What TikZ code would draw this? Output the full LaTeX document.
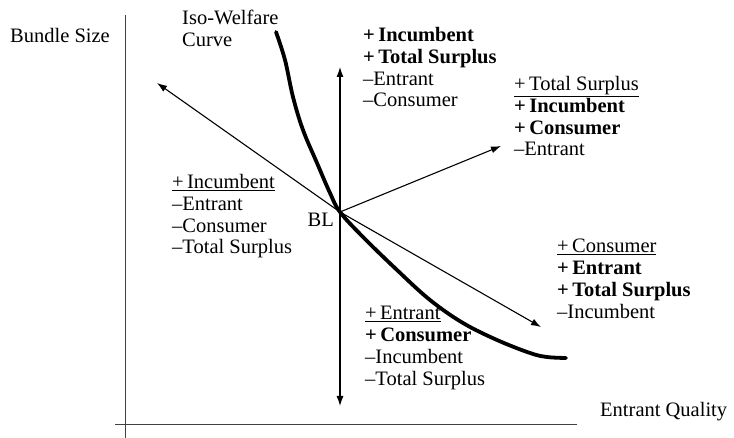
\documentclass[tikz,border=0pt]{standalone}
\usepackage{fontspec}
\setmainfont{Liberation Serif}
\usetikzlibrary{arrows.meta,positioning}

\begin{document}
\begin{tikzpicture}[
    x=1pt, y=-1pt,
    every node/.style={inner sep=0pt, font=\fontsize{20.5}{21.8}\selectfont},
    effect/.style={anchor=north west, align=left},
    move/.style={draw, line width=1.1pt, -{Latex[length=10pt,width=7pt]}},
    axis/.style={draw=black!75, line width=0.8pt},
    isocurve/.style={draw, line width=3.8pt, line cap=round}
]
\useasboundingbox (0,0) rectangle (734,438);

% axes
\coordinate (yaxis top) at (125,15);
\coordinate (yaxis bottom) at (125,438);
\coordinate (xaxis left) at (115,424);
\coordinate (xaxis right) at (577,424);
\draw[axis] (yaxis top) -- (yaxis bottom);
\draw[axis] (xaxis left) -- (xaxis right);
\node[anchor=west] (bundle) at (10,35) {Bundle Size};
\node[anchor=west] (quality) at (600,412) {Entrant Quality};

% base line point
\coordinate (BL) at (340,212);
\node[anchor=east] (bllabel) at (334,220) {BL};

% iso-welfare curve
\draw[isocurve] plot[smooth, tension=0.6] coordinates {
    (276,32) (285,60) (293,97) (303,130) (317,163) (330,193) (340,212)
    (363,237) (397,270) (430,300) (463,323) (497,340) (530,353) (547,357) (566,358)};
\node[effect] (isolabel) at (182,10) {Iso-Welfare\\Curve};

% directions of movement
\coordinate (up) at (340,67);
\coordinate (down) at (340,406);
\coordinate (upleft) at (157,83);
\coordinate (upright) at (501,146);
\coordinate (downright) at (541,327);
\draw[move] (BL) -- (up);
\draw[move] (BL) -- (down);
\draw[move] (BL) -- (upleft);
\draw[move] (BL) -- (upright);
\draw[move] (BL) -- (downright);

% effects
\node[effect] (eup) at (363,27) {\textbf{+\,Incumbent}\\\textbf{+\,Total Surplus}\\--Entrant\\--Consumer};
\node[effect] (eupright) at (514,76) {\underline{+\,Total Surplus}\\\textbf{+\,Incumbent}\\\textbf{+\,Consumer}\\--Entrant};
\node[effect] (eupleft) at (172,174) {\underline{+\,Incumbent}\\--Entrant\\--Consumer\\--Total Surplus};
\node[effect] (edownright) at (557,239) {\underline{+\,Consumer}\\\textbf{+\,Entrant}\\\textbf{+\,Total Surplus}\\--Incumbent};
\node[effect] (edown) at (365,306) {\underline{+\,Entrant}\\\textbf{+\,Consumer}\\--Incumbent\\--Total Surplus};

\end{tikzpicture}
\end{document}
